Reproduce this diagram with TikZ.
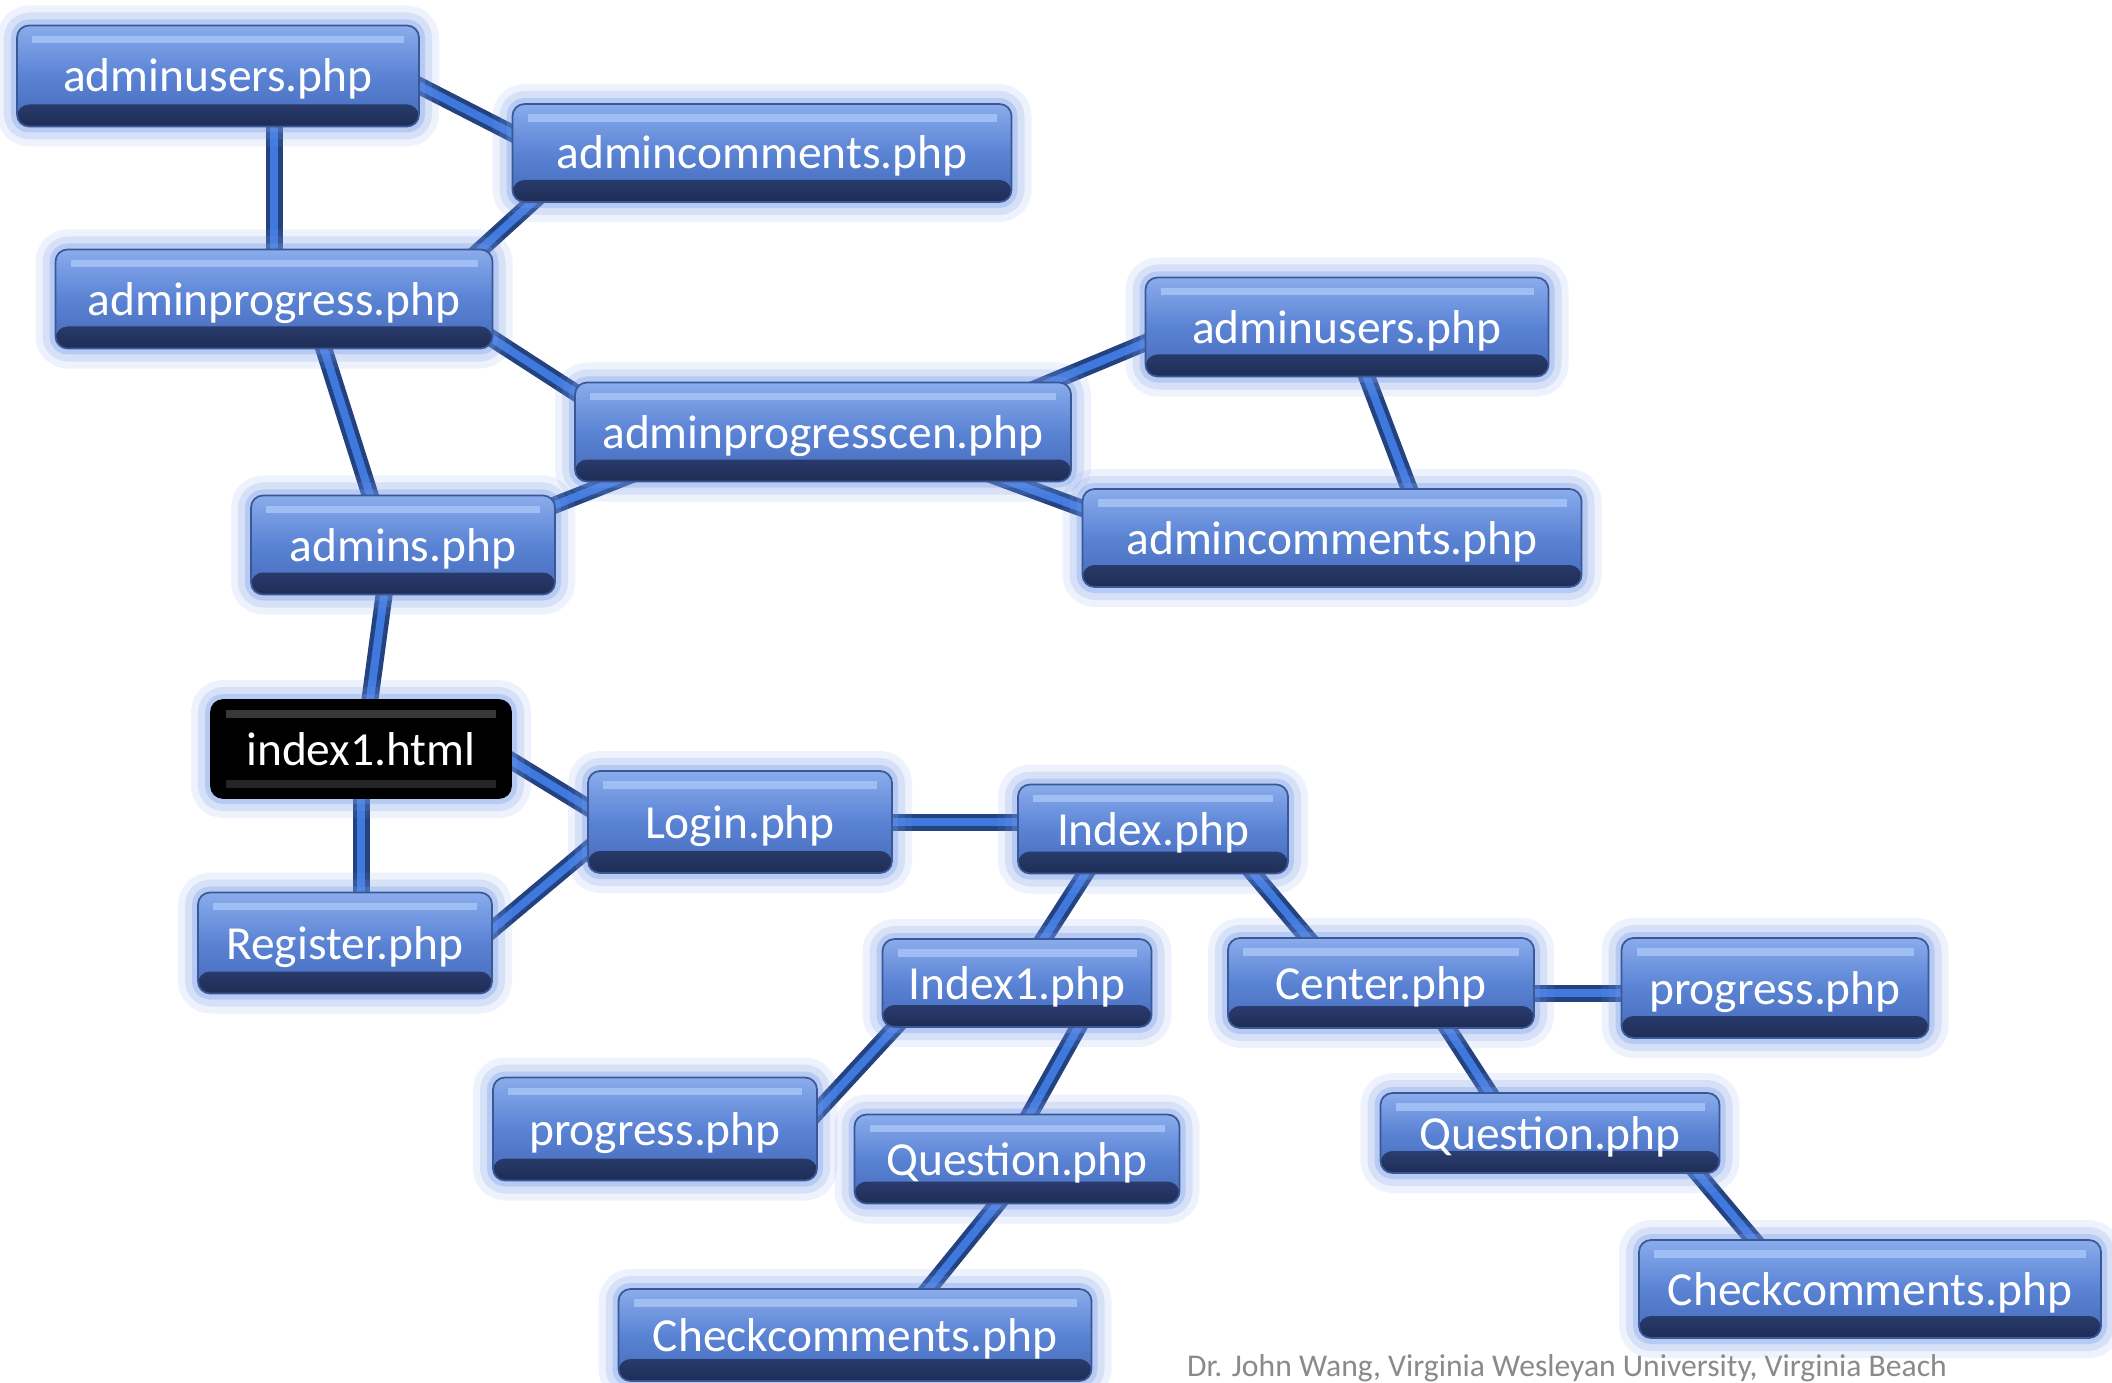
\documentclass[tikz,border=0pt]{standalone}
\usepackage{fontspec}
\setmainfont{Carlito}
\usetikzlibrary{backgrounds}
\definecolor{boxtop}{HTML}{8AACEC}
\definecolor{boxmid}{HTML}{5A83D4}
\definecolor{boxbot}{HTML}{4669B9}
\definecolor{boxdark}{HTML}{1F2D55}
\definecolor{boxedge}{HTML}{3A5896}
\definecolor{boxhi}{HTML}{A6C4F7}
\definecolor{glow}{HTML}{6F95E8}
\definecolor{linkdark}{HTML}{24427F}
\definecolor{linkmid}{HTML}{3F79DE}
\definecolor{creditgray}{HTML}{8A8A8A}

\begin{document}
\begin{tikzpicture}[line cap=round,line join=round,x=1cm,y=1cm,
hop/.style={rectangle,rounded corners=1.2mm,draw=boxedge,line width=0.5pt,
  top color=boxtop,bottom color=boxbot,middle color=boxmid,
  text=white,font=\fontsize{13.5}{16}\selectfont,inner sep=1pt,
  text height=0.36cm,text depth=0.04cm,
  preaction={draw=glow,line width=4mm,opacity=0.12},
  preaction={draw=glow,line width=2.6mm,opacity=0.18},
  preaction={draw=glow,line width=1.2mm,opacity=0.3},
  path picture={
    \shade[top color=boxbot,bottom color=boxdark]
    ([yshift=2.2mm]path picture bounding box.south west) rectangle
    (path picture bounding box.south east);
    \draw[boxhi,line width=2pt,line cap=butt,opacity=0.85]
    ([xshift=1.5mm,yshift=-1.4mm]path picture bounding box.north west) --
    ([xshift=-1.5mm,yshift=-1.4mm]path picture bounding box.north east);}},
goc/.style={hop,top color=black,bottom color=black,middle color=black,draw=black,
  path picture={
    \draw[black!78,line width=2pt,line cap=butt]
    ([xshift=1.5mm,yshift=-1.4mm]path picture bounding box.north west) --
    ([xshift=-1.5mm,yshift=-1.4mm]path picture bounding box.north east);
    \draw[black!85,line width=2pt,line cap=butt]
    ([xshift=1.5mm,yshift=1.4mm]path picture bounding box.south west) --
    ([xshift=-1.5mm,yshift=1.4mm]path picture bounding box.south east);}},
noi/.style={draw=linkdark,line width=0.45mm,double=linkmid,
  double distance=0.8mm,shorten <=-2.5mm,shorten >=-2.5mm}]
\useasboundingbox (0,0) rectangle (21.12,-13.83);
% Vẽ các hộp phía trên
\node[hop,minimum width=4.02cm,minimum height=1.01cm] (au1) at (2.18,-0.76) {adminusers.php};
\node[hop,minimum width=4.99cm,minimum height=0.98cm] (ac1) at (7.62,-1.53) {admincomments.php};
\node[hop,minimum width=4.37cm,minimum height=0.99cm] (ap) at (2.74,-2.99) {adminprogress.php};
\node[hop,minimum width=4.96cm,minimum height=0.99cm] (apc) at (8.23,-4.32) {adminprogresscen.php};
\node[hop,minimum width=3.04cm,minimum height=0.99cm] (ad) at (4.03,-5.45) {admins.php};
\node[hop,minimum width=4.03cm,minimum height=0.99cm] (au2) at (13.47,-3.27) {adminusers.php};
\node[hop,minimum width=4.99cm,minimum height=0.98cm] (ac2) at (13.32,-5.38) {admincomments.php};
% Vẽ hộp gốc và các hộp phía dưới
\node[goc,minimum width=3.00cm,minimum height=0.98cm] (ix) at (3.61,-7.49) {index1.html};
\node[hop,minimum width=3.04cm,minimum height=1.02cm] (lg) at (7.40,-8.22) {Login.php};
\node[hop,minimum width=2.94cm,minimum height=1.01cm] (rg) at (3.45,-9.43) {Register.php};
\node[hop,minimum width=2.70cm,minimum height=0.89cm] (ip) at (11.53,-8.29) {Index.php};
\node[hop,minimum width=2.69cm,minimum height=0.88cm] (i1) at (10.17,-9.83) {Index1.php};
\node[hop,minimum width=3.06cm,minimum height=0.90cm] (ce) at (13.81,-9.83) {Center.php};
\node[hop,minimum width=3.07cm,minimum height=1.00cm] (prR) at (17.75,-9.88) {progress.php};
\node[hop,minimum width=3.24cm,minimum height=1.03cm] (prL) at (6.55,-11.29) {progress.php};
\node[hop,minimum width=3.25cm,minimum height=0.89cm] (qL) at (10.17,-11.59) {Question.php};
\node[hop,minimum width=3.39cm,minimum height=0.80cm] (qR) at (15.50,-11.33) {Question.php};
\node[hop,minimum width=4.73cm,minimum height=0.92cm] (ckL) at (8.55,-13.35) {Checkcomments.php};
\node[hop,minimum width=4.62cm,minimum height=0.98cm] (ckR) at (18.70,-12.89) {Checkcomments.php};
\node[text=creditgray,font=\fontsize{9}{10}\selectfont,inner sep=0pt] (tacgia) at (15.67,-13.68)
{Dr. John Wang, Virginia Wesleyan University, Virginia Beach};
% Vẽ các đường nối (nằm dưới các hộp)
\begin{scope}[on background layer]
\fill[white] (0,0) rectangle (21.12,-13.83);
\draw[noi] ([yshift=-1mm]au1.east) -- ([yshift=2mm]ac1.west);
\draw[noi] (ap.north) -- (ap.north |- au1.south);
\draw[noi] ([xshift=2mm]ac1.south west) -- ([xshift=-1.2mm]ap.north east);
\draw[noi] ([yshift=1mm]ap.south east) -- ([yshift=-1mm]apc.north west);
\draw[noi] ([xshift=5mm]ap.south) -- ([xshift=-3.3mm]ad.north);
\draw[noi] ([yshift=-1mm]ad.north east) -- ([xshift=3.8mm]apc.south west);
\draw[noi] ([xshift=-2mm]apc.north east) -- ([yshift=-1.6mm]au2.west);
\draw[noi] ([xshift=-6mm]apc.south east) -- ([yshift=-2mm]ac2.north west);
\draw[noi] ([xshift=2mm]au2.south) -- ([xshift=7.7mm]ac2.north);
\draw[noi] ([xshift=-1.9mm]ad.south) -- ([xshift=0.9mm]ix.north);
\draw[noi] ([yshift=-1.2mm]ix.east) -- ([yshift=1.5mm]lg.west);
\draw[noi] (ix.south) -- (ix.south |- rg.north);
\draw[noi] ([yshift=1.4mm]rg.east) -- ([yshift=-2.8mm]lg.west);
\draw[noi] (lg.east) -- (lg.east -| ip.west);
\draw[noi] ([xshift=-6.8mm]ip.south) -- ([xshift=2.7mm]i1.north);
\draw[noi] ([xshift=10.1mm]ip.south) -- ([xshift=-7.4mm]ce.north);
\draw[noi] ([yshift=-1mm]ce.east) -- ([yshift=-1mm]ce.east -| prR.west);
\draw[noi] ([xshift=6.7mm]ce.south) -- ([xshift=-6.1mm]qR.north);
\draw[noi] ([xshift=14.8mm]qR.south) -- ([xshift=-11.7mm]ckR.north);
\draw[noi] ([xshift=1.3mm]i1.south west) -- ([yshift=1.8mm]prL.east);
\draw[noi] ([xshift=6.1mm]i1.south) -- ([xshift=1.3mm]qL.north);
\draw[noi] ([xshift=-2mm]qL.south) -- ([xshift=7.4mm]ckL.north);
\end{scope}
\end{tikzpicture}
\end{document}
